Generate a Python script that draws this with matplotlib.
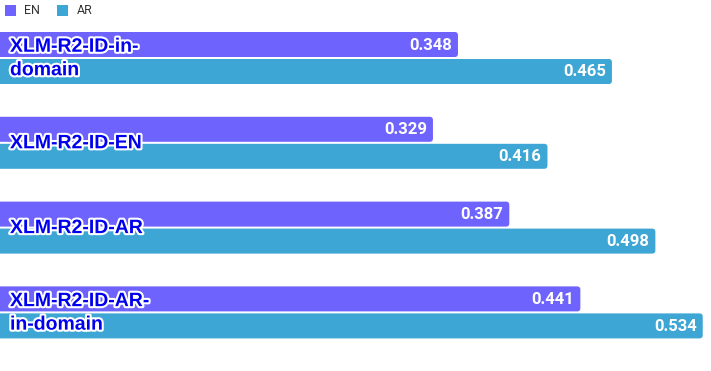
import numpy as np
import matplotlib.pyplot as plt
from matplotlib.patches import FancyBboxPatch, Rectangle
import matplotlib.patheffects as pe

models = ["XLM-R2-ID-in-\ndomain", "XLM-R2-ID-EN", "XLM-R2-ID-AR", "XLM-R2-ID-AR-\nin-domain"]
en_scores = [0.348, 0.329, 0.387, 0.441]
ar_scores = [0.465, 0.416, 0.498, 0.534]

EN_COLOR = "#6f63fe"
AR_COLOR = "#3ea6d4"

W, H = 711, 371
PX = 1316.0  # pixels per score unit
fig = plt.figure(figsize=(W / 100, H / 100), dpi=100)
ax = fig.add_axes([0, 0, 1, 1])
ax.set_xlim(0, W / PX)
ax.set_ylim(H, 0)
ax.axis("off")

first_center = 58
step = 84.8
bar_h = 25
gap = 2

def rbar(x, y, w, color):
    p = FancyBboxPatch((x - 0.01, y), w + 0.01, bar_h,
                       boxstyle="round,pad=0,rounding_size=0.0025",
                       mutation_aspect=PX, facecolor=color, edgecolor="none")
    ax.add_patch(p)

for i, (m, en, ar) in enumerate(zip(models, en_scores, ar_scores)):
    c = first_center + i * step
    y_en = c - gap / 2 - bar_h
    y_ar = c + gap / 2
    rbar(0, y_en, en, EN_COLOR)
    rbar(0, y_ar, ar, AR_COLOR)
    ax.text(en - 6 / PX, y_en + bar_h / 2 + 0.5, f"{en:.3f}", color="white",
            fontsize=12, fontweight="bold", family="Roboto", ha="right", va="center")
    ax.text(ar - 6 / PX, y_ar + bar_h / 2 + 0.5, f"{ar:.3f}", color="white",
            fontsize=12, fontweight="bold", family="Roboto", ha="right", va="center")
    ax.text(10 / PX, c + 1, m, color="#0000ee", fontsize=14, fontweight="bold",
            family="Liberation Sans", ha="left", va="center", linespacing=1.5,
            path_effects=[pe.withStroke(linewidth=3, foreground="white")])

# legend
for lx, tx, lab, col in [(5, 24, "EN", EN_COLOR), (57, 77, "AR", AR_COLOR)]:
    ax.add_patch(Rectangle((lx / PX, 5), 11 / PX, 11, facecolor=col, edgecolor="none"))
    ax.text(tx / PX, 11, lab, fontsize=9, color="#333333", family="Roboto",
            ha="left", va="center")

fig.savefig("out.png", dpi=100)
